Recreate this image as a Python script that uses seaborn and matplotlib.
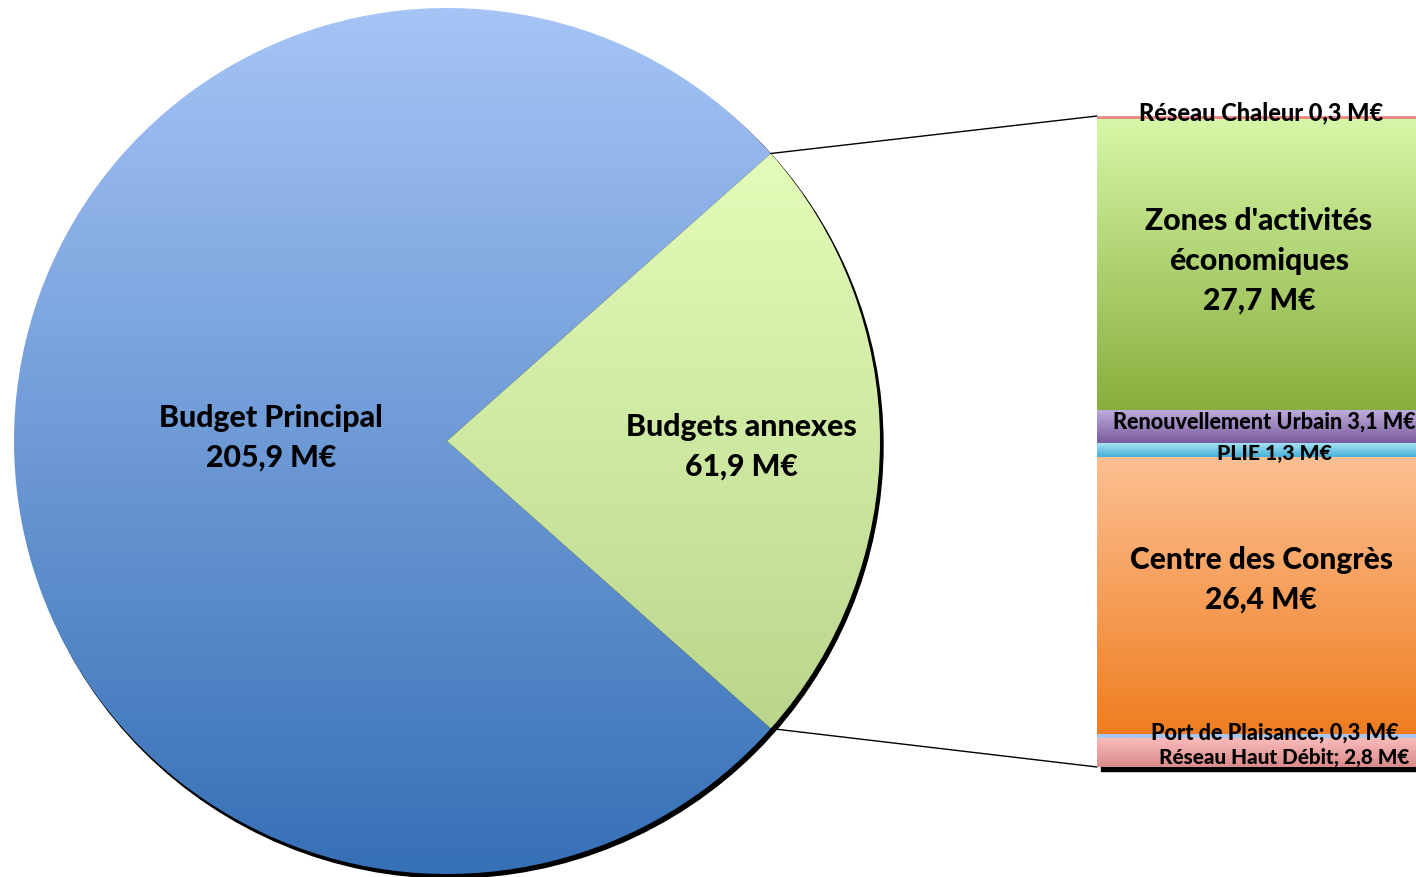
import numpy as np
import matplotlib.pyplot as plt
import matplotlib.colors as mcolors
from matplotlib.patches import Circle, Rectangle
import seaborn as sns

sns.set_theme(style="white")
plt.rcParams['font.family'] = ['Lato', 'DejaVu Sans']

# pie data
pie_labels = ["Budget Principal\n205,9 M€", "Budgets annexes\n61,9 M€"]
pie_values = [205.9, 61.9]
pie_colors = [("#a6c4f6", "#3670b6"), ("#e3fcb9", "#bad68c")]

# stacked bar data (bottom -> top)
bar_labels = ["Réseau Haut Débit; 2,8 M€", "Port de Plaisance; 0,3 M€",
              "Centre des Congrès\n26,4 M€", "PLIE 1,3 M€",
              "Renouvellement Urbain 3,1 M€",
              "Zones d'activités\néconomiques\n27,7 M€", "Réseau Chaleur 0,3 M€"]
bar_values = [2.8, 0.3, 26.4, 1.3, 3.1, 27.7, 0.3]
bar_colors = [("#fcbdbd", "#d98a8a"), ("#a9c6f0", "#a9c6f0"), ("#fdc093", "#ef7d20"),
              ("#a6e1f3", "#44b0d8"), ("#bfacdd", "#785b9c"), ("#d6f7a8", "#88ae3c"),
              ("#f49a98", "#ec8480")]


def gradient_fill(ax, patch, top, bottom, extent):
    cmap = mcolors.LinearSegmentedColormap.from_list("g", [bottom, top])
    grad = np.linspace(0, 1, 256).reshape(-1, 1)
    im = ax.imshow(grad, cmap=cmap, extent=extent, origin="lower",
                   aspect="auto", interpolation="bilinear", zorder=patch.get_zorder())
    im.set_clip_path(patch)
    patch.set_facecolor("none")


fig = plt.figure(figsize=(14.16, 8.78), dpi=100)
W, H = 1416, 878

# background axes in pixel coords (y down)
ax = fig.add_axes([0, 0, 1, 1], zorder=0)
cx, cy, r = 447, 442, 433
half = 180 * pie_values[1] / sum(pie_values)

ax.add_patch(Circle((cx + 3, cy + 4), r, color="black", zorder=1))
wedges, _ = ax.pie(pie_values, center=(cx, cy), radius=r, startangle=half,
                   counterclock=True, wedgeprops=dict(linewidth=0, zorder=2))
ax.set_xlim(0, W)
ax.set_ylim(H, 0)
ax.set_aspect("auto")
ax.axis("off")

gradient_fill(ax, wedges[0], *pie_colors[0], (cx - r, cx + r, cy + r, cy - r))
dy = r * np.sin(np.radians(half))
dx = r * np.cos(np.radians(half))
gradient_fill(ax, wedges[1], *pie_colors[1], (cx, cx + r, cy + dy, cy - dy))

# bar geometry in pixels
bx0, bx1, by0, by1 = 1097, 1430, 117, 768
ax.add_patch(Rectangle((bx0 + 4, by0 + 4), bx1 - bx0, by1 - by0, color="black", zorder=1))
ax.plot([cx + dx, bx0], [cy - dy, by0], color="black", lw=1, zorder=3)
ax.plot([cx + dx, bx0], [cy + dy, by1], color="black", lw=1, zorder=3)

ax_bar = fig.add_axes([bx0 / W, (H - by1) / H, (bx1 - bx0) / W, (by1 - by0) / H], zorder=1)
bottoms = np.concatenate([[0], np.cumsum(bar_values)[:-1]])
bars = ax_bar.bar(0.5, bar_values, bottom=bottoms, width=1.0, linewidth=0)
for rect, (top, bot), b, v in zip(bars, bar_colors, bottoms, bar_values):
    gradient_fill(ax_bar, rect, top, bot, (0, 1, b, b + v))
ax_bar.set_xlim(0, 1)
ax_bar.set_ylim(0, sum(bar_values))
ax_bar.axis("off")

# labels on top
ax_t = fig.add_axes([0, 0, 1, 1], zorder=2)
ax_t.set_xlim(0, W)
ax_t.set_ylim(H, 0)
ax_t.axis("off")
ax_t.patch.set_alpha(0)

big = dict(ha="center", va="center", fontweight="black", fontsize=21.8, color="black",
           linespacing=1.5)
ax_t.text(271, 438, pie_labels[0], **big)
ax_t.text(741, 447, pie_labels[1], **big)

bar_pos = [(1284, 757, 14.9), (1275, 733, 15.7), (1261, 580, 21.5), (1274, 454, 15.2),
           (1264, 422, 15.6), (1259, 261, 21.7), (1261, 113, 17)]
for lab, (x, y, fs) in zip(bar_labels, bar_pos):
    ax_t.text(x, y, lab, ha="center", va="center", fontweight="black", fontsize=fs,
              color="black", linespacing=1.5)

fig.savefig("out.png", dpi=100)
